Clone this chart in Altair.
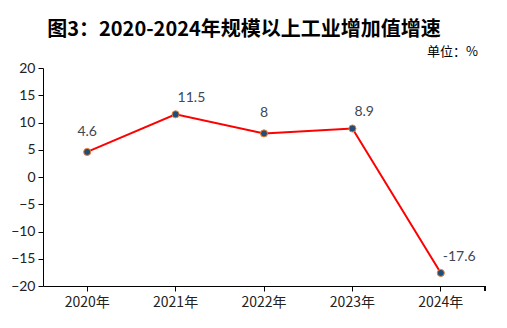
import altair as alt
import pandas as pd

years = ["2020年", "2021年", "2022年", "2023年", "2024年"]
growth = [4.6, 11.5, 8, 8.9, -17.6]
labels = ["4.6", "11.5", "8", "8.9", "-17.6"]
centered = ["2020年", "2022年"]

df = pd.DataFrame({"year": years, "growth": growth, "label": labels})

FONT = "Lato"
CJK = "Noto Sans CJK SC"

x = alt.X("year:N", sort=years, title=None,
          scale=alt.Scale(paddingInner=0, paddingOuter=0, type="band"),
          axis=alt.Axis(labelAngle=0, labelFont=CJK, labelFontSize=14, labelColor="#222222",
                        domainColor="#000000", tickColor="#000000", tickSize=5,
                        labelPadding=4, bandPosition=0.5))
y = alt.Y("growth:Q", title=None,
          scale=alt.Scale(domain=[-20, 20], nice=False),
          axis=alt.Axis(values=list(range(-20, 21, 5)), grid=False, labelFont=FONT,
                        labelFontSize=14, labelColor="#222222", domainColor="#000000",
                        tickColor="#000000", tickSize=5, labelPadding=3))

base = alt.Chart(df).encode(x=x, y=y)

line = base.mark_line(color="#ff0000", strokeWidth=2)
pts = base.mark_point(filled=True, size=50, fill="#1f4e79", stroke="#ed7d31",
                      strokeWidth=1, opacity=1)
lab_c = base.transform_filter(alt.FieldOneOfPredicate(field="year", oneOf=centered)).mark_text(
    font=FONT, fontSize=14, color="#404858", dy=-13, baseline="bottom", align="center"
).encode(text="label:N")
lab_r = base.transform_filter(~alt.FieldOneOfPredicate(field="year", oneOf=centered)).mark_text(
    font=FONT, fontSize=14, color="#404858", dy=-9, dx=2, baseline="bottom", align="left"
).encode(text="label:N")

end_tick = alt.Chart(df).mark_rule(color="#000000", strokeWidth=1).encode(
    x=alt.value(442), y=alt.value(218), y2=alt.value(223))

title = alt.Chart(pd.DataFrame({"t": ["图3：2020-2024年规模以上工业增加值增速"]})).mark_text(
    font=CJK, fontSize=20, fontWeight="bold", color="#000000", align="center", baseline="middle"
).encode(text="t:N", x=alt.value(201), y=alt.value(-38))
unit = alt.Chart(pd.DataFrame({"t": ["单位：%"]})).mark_text(
    font=CJK, fontSize=13, color="#000000", align="right", baseline="middle"
).encode(text="t:N", x=alt.value(435), y=alt.value(-16))

chart = alt.layer(line, pts, lab_c, lab_r, end_tick, title, unit).properties(
    width=442, height=218,
    autosize=alt.AutoSizeParams(type="none"),
    padding={"left": 43, "top": 68, "right": 22, "bottom": 42},
    background="#ffffff",
).configure_view(stroke=None)

chart.save("out.html", embed_options={"renderer": "svg", "actions": False})
